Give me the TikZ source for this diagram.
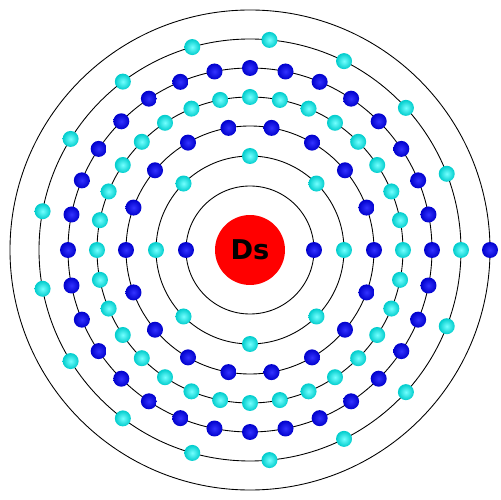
\documentclass[tikz,border=0pt]{standalone}
\usepackage{fontspec}
\setsansfont{DejaVu Sans}
\usetikzlibrary{shadings}

\begin{document}
\begin{tikzpicture}[
  x=0.02cm, y=0.02cm,
  shell/.style={draw=black, line width=0.5pt},
  nucleus/.style={circle, fill=red, minimum size=1.4cm, inner sep=0pt,
                  font=\sffamily\bfseries\fontsize{15.5}{18}\selectfont},
  electron/.style={circle, minimum size=0.32cm, inner sep=0pt},
  eblue/.style={electron, inner color=blue!80!white, outer color=blue!80!black},
  ecyan/.style={electron, inner color=cyan!55!white, outer color=cyan!80!black}]
  \useasboundingbox (-250,-250) rectangle (250,250);
  % shells
  \foreach \r in {64,94,124,153,182,211,240}
    \draw[shell] (0,0) circle[radius=\r];
  \node[nucleus] (nuc) at (0,0) {Ds};
  % electrons: shell / radius / count / style
  \foreach \s/\r/\n/\c in {1/64/2/eblue, 2/94/8/ecyan, 3/124/18/eblue,
                            4/153/32/ecyan, 5/182/32/eblue, 6/211/17/ecyan,
                            7/240/1/eblue}
    \foreach \i in {1,...,\n}
      \node[\c] (e\s-\i) at ({360*(\i-1)/\n}:\r) {};
\end{tikzpicture}
\end{document}
